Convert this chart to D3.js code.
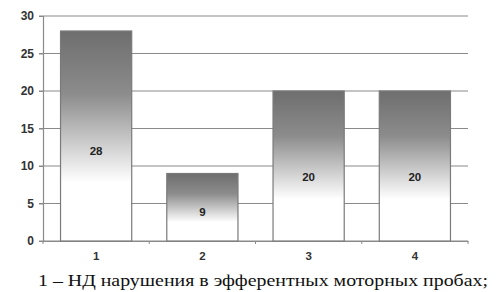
<!DOCTYPE html>
<html>
<head>
<meta charset="utf-8">
<script src="https://cdn.jsdelivr.net/npm/d3@7"></script>
<style>
  body { margin: 0; background: #fff; }
  svg { display: block; }
</style>
</head>
<body>
<div id="chart"></div>
<script>
// Chart size
var w = 499;
var h = 292;

// Data
var categories = ["1", "2", "3", "4"];
var values = [28, 9, 20, 20];
var yTicks = [0, 5, 10, 15, 20, 25, 30];
var caption = "1 – НД нарушения в эфферентных моторных пробах;";

var plotLeft = 43, plotRight = 468, plotTop = 16, plotBottom = 241;

var svg = d3.select("#chart")
    .append("svg")
    .attr("width", w)
    .attr("height", h);

// Gradient for the bars: dark at top, fading to white
var grad = svg.append("defs").append("linearGradient")
    .attr("id", "barGrad")
    .attr("x1", 0).attr("y1", 0)
    .attr("x2", 0).attr("y2", 1);
grad.append("stop").attr("offset", "0%").attr("stop-color", "#6e6e6e");
grad.append("stop").attr("offset", "30%").attr("stop-color", "#8c8c8c");
grad.append("stop").attr("offset", "72%").attr("stop-color", "#ffffff");
grad.append("stop").attr("offset", "100%").attr("stop-color", "#ffffff");

// Scales
var xScale = d3.scaleBand()
    .domain(categories)
    .range([plotLeft, plotRight])
    .paddingInner(0.33)
    .paddingOuter(0.165);

var yScale = d3.scaleLinear()
    .domain([0, 30])
    .range([plotBottom, plotTop]);

// Gridlines
svg.append("g")
    .selectAll("line")
    .data(yTicks)
    .enter()
    .append("line")
    .attr("x1", plotLeft - 4)
    .attr("x2", plotRight)
    .attr("y1", function (d) { return yScale(d); })
    .attr("y2", function (d) { return yScale(d); })
    .attr("stroke", "#8a8a8a")
    .attr("stroke-width", 1.2);

// Y axis
var yAxis = d3.axisLeft(yScale)
    .tickValues(yTicks)
    .tickSize(4)
    .tickPadding(5);
var gy = svg.append("g")
    .attr("transform", "translate(" + plotLeft + ",0)")
    .call(yAxis);
gy.select(".domain").attr("stroke", "#8a8a8a").attr("stroke-width", 1.2);
gy.selectAll(".tick line").attr("stroke", "#8a8a8a");
gy.selectAll(".tick text")
    .attr("font-family", "Liberation Sans, Arial, sans-serif")
    .attr("font-size", 12)
    .attr("font-weight", "bold")
    .attr("fill", "#333");

// X axis
var xAxis = d3.axisBottom(xScale)
    .tickSize(0)
    .tickPadding(11);
var gx = svg.append("g")
    .attr("transform", "translate(0," + plotBottom + ")")
    .call(xAxis);
gx.select(".domain").attr("stroke", "#8a8a8a").attr("stroke-width", 1.2);
gx.selectAll(".tick text")
    .attr("font-family", "Liberation Sans, Arial, sans-serif")
    .attr("font-size", 11.5)
    .attr("font-weight", "bold")
    .attr("fill", "#333");

// Small tick marks between categories
svg.append("g")
    .selectAll("line")
    .data(d3.range(categories.length + 1))
    .enter()
    .append("line")
    .attr("x1", function (i) { return plotLeft + i * (plotRight - plotLeft) / categories.length; })
    .attr("x2", function (i) { return plotLeft + i * (plotRight - plotLeft) / categories.length; })
    .attr("y1", plotBottom)
    .attr("y2", plotBottom + 3)
    .attr("stroke", "#8a8a8a");

// Bars
svg.selectAll(".bar")
    .data(values)
    .enter()
    .append("rect")
    .attr("class", "bar")
    .attr("x", function (d, i) { return xScale(categories[i]); })
    .attr("y", function (d) { return yScale(d); })
    .attr("width", xScale.bandwidth())
    .attr("height", function (d) { return plotBottom - yScale(d); })
    .attr("fill", "url(#barGrad)")
    .attr("stroke", "#7a7a7a")
    .attr("stroke-width", 1.2);

// Bar labels
svg.selectAll(".bar-label")
    .data(values)
    .enter()
    .append("text")
    .attr("class", "bar-label")
    .attr("x", function (d, i) { return xScale(categories[i]) + xScale.bandwidth() / 2; })
    .attr("y", function (d) { return yScale(d) + 0.57 * (plotBottom - yScale(d)); })
    .attr("dy", "0.35em")
    .attr("text-anchor", "middle")
    .attr("font-family", "Liberation Sans, Arial, sans-serif")
    .attr("font-size", 11.5)
    .attr("font-weight", "bold")
    .attr("fill", "#222")
    .text(function (d) { return d; });

// Caption
svg.append("text")
    .attr("x", 263)
    .attr("y", 286)
    .attr("text-anchor", "middle")
    .attr("font-family", "Liberation Serif, Times New Roman, serif")
    .attr("font-size", 17)
    .attr("textLength", 450)
    .attr("lengthAdjust", "spacingAndGlyphs")
    .attr("fill", "#111")
    .text(caption);
</script>
</body>
</html>
